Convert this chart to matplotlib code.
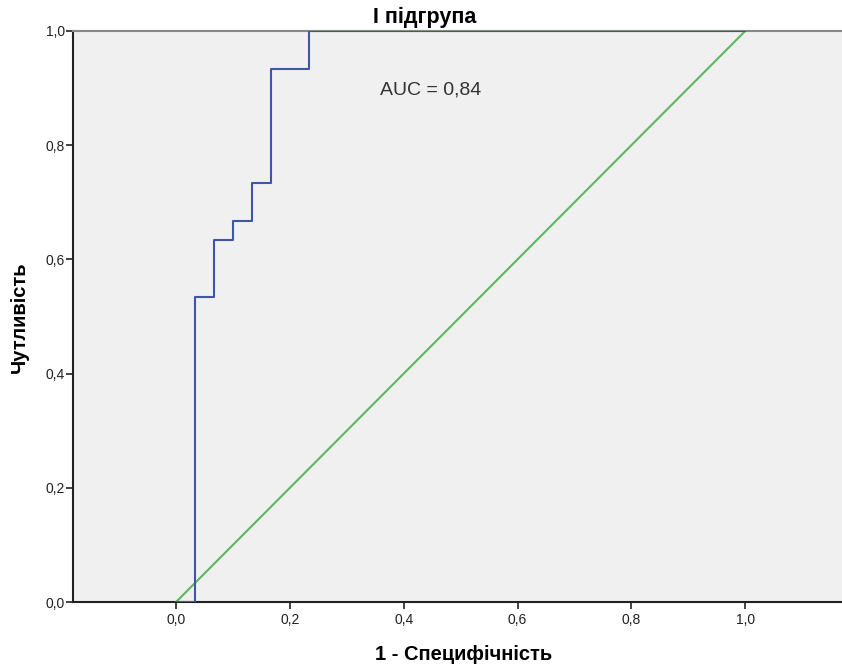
import matplotlib
matplotlib.use("Agg")
import matplotlib.pyplot as plt
from matplotlib.ticker import FuncFormatter

# ROC step curve (1 - specificity, sensitivity)
fpr = [0.0, 1/30, 1/30, 2/30, 2/30, 3/30, 3/30, 4/30, 4/30, 5/30, 5/30, 7/30, 7/30, 1.0]
tpr = [0.0, 0.0, 16/30, 16/30, 19/30, 19/30, 20/30, 20/30, 22/30, 22/30, 28/30, 28/30, 1.0, 1.0]
ref_x = [0.0, 1.0]
ref_y = [0.0, 1.0]
xticks = [0.0, 0.2, 0.4, 0.6, 0.8, 1.0]
yticks = [0.0, 0.2, 0.4, 0.6, 0.8, 1.0]
title = "І підгрупа"
xlabel = "1 - Специфічність"
ylabel = "Чутливість"
auc_text = "AUC = 0,84"

plt.rcParams['font.family'] = ['Liberation Sans', 'DejaVu Sans']

fig = plt.figure(figsize=(8.42, 6.68), dpi=100)
ax = fig.add_axes([73/842, 1-602/668, 1-73/842, (602-31)/668])
ax.set_facecolor('#f0f0f0')

ax.plot(ref_x, ref_y, color='#5cb85c', lw=1.5, zorder=3)
ax.plot(fpr, tpr, color='#3e55a8', lw=1.5, zorder=4)

ax.set_xlim(-0.181, 1.17)
ax.set_ylim(0, 1.0)
ax.set_xticks(xticks)
ax.set_yticks(yticks)
fmt = FuncFormatter(lambda v, p: f"{v:.1f}".replace('.', ','))
ax.xaxis.set_major_formatter(fmt)
ax.yaxis.set_major_formatter(fmt)
ax.tick_params(direction='out', length=5, width=1.2, colors='#222222', labelsize=10)
ax.tick_params(axis='x', pad=3)
ax.tick_params(axis='y', pad=1)

for s in ['left', 'bottom']:
    ax.spines[s].set_color('#222222')
    ax.spines[s].set_linewidth(1.5)
ax.spines['top'].set_color('#888888')
ax.spines['top'].set_linewidth(1.5)
ax.spines['right'].set_visible(False)

ax.text(0.3585, 0.888, auc_text, fontsize=14, color='#333333', va='baseline', ha='left')

fig.text(425/842, 1-23/668, title, fontsize=15.5, fontweight='bold', ha='center', va='baseline')
fig.text(464/842, 1-660/668, xlabel, fontsize=14.5, fontweight='bold', ha='center', va='baseline')
fig.text(19.5/842, 1-317/668, ylabel, fontsize=14.5, fontweight='bold', ha='center', va='center', rotation=90)

fig.savefig('out.png', dpi=100)
